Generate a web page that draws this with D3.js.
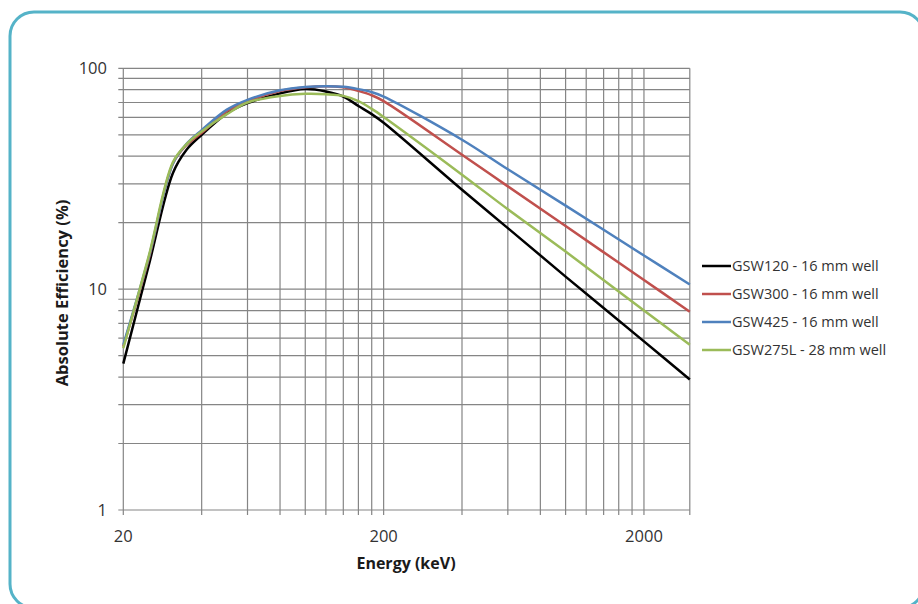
<!DOCTYPE html>
<meta charset="utf-8">
<style>
body { margin: 0; background: #fff; }
text { font-family: "Open Sans", sans-serif; fill: #333; }
.grid line { stroke: #858585; stroke-width: 1.2px; }
.line { fill: none; stroke-width: 2.5px; }
</style>
<body>
<script src="https://cdn.jsdelivr.net/npm/d3@7"></script>
<script>

// energies (keV) and efficiencies (%)
var energy  = [20, 25, 31, 35, 40, 50, 60, 80, 100, 120, 140, 160, 180, 200, 400, 600, 1000, 2000, 3000];
var gsw120  = [4.6, 12.7, 33.5, 42.8, 50, 62.5, 69.5, 77, 80.5, 78.5, 74.5, 67.5, 62, 56.7, 28.2, 18.9, 11.4, 5.8, 3.9];
var gsw300  = [5.5, 13.6, 37, 45, 51, 64, 71, 79, 82, 83, 82, 79, 75.5, 71, 40.6, 29.2, 19.3, 11, 7.9];
var gsw425  = [5.6, 13.8, 37, 45.5, 52.5, 65, 72, 79.5, 82.3, 83, 82.5, 80.5, 78, 74.5, 47.5, 34.9, 23.9, 14.2, 10.5];
var gsw275l = [5.4, 14, 37.5, 45.4, 51.8, 62, 70, 75, 76.6, 76.3, 75, 71, 65.5, 60.2, 33, 23, 14.8, 8, 5.6];

var seriesNames = ["GSW120 - 16 mm well", "GSW300 - 16 mm well", "GSW425 - 16 mm well", "GSW275L - 28 mm well"];
var seriesColors = ["#000000", "#C0504D", "#4F81BD", "#9BBB59"];

// grid / tick values
var xGrid = [20, 40, 60, 80, 100, 120, 140, 160, 180, 200, 400, 600, 800, 1000, 1200, 1400, 1600, 1800, 2000];
var xLabels = [20, 200, 2000];
var yGrid = [1, 2, 3, 4, 5, 6, 7, 8, 9, 10, 20, 30, 40, 50, 60, 70, 80, 90, 100];
var yLabels = [1, 10, 100];

var W = 918, H = 604;
var plotLeft = 123.3, plotRight = 689.8, plotTop = 68.3, plotBottom = 510;

var svg = d3.select("body").append("svg")
    .attr("width", W)
    .attr("height", H);

// rounded frame, partly cut by the picture edge
svg.append("rect")
    .attr("x", 10).attr("y", 12)
    .attr("width", 914).attr("height", 596)
    .attr("rx", 24).attr("ry", 24)
    .attr("fill", "none")
    .attr("stroke", "#55B3C8")
    .attr("stroke-width", 3);

var x = d3.scaleLog().domain([20, 3000]).range([plotLeft, plotRight]);
var y = d3.scaleLog().domain([1, 100]).range([plotBottom, plotTop]);

var grid = svg.append("g").attr("class", "grid");

// vertical grid lines, with a small tick below the axis
grid.selectAll(".vx")
    .data(xGrid)
  .enter().append("line")
    .attr("x1", function(d) { return x(d); })
    .attr("x2", function(d) { return x(d); })
    .attr("y1", plotTop)
    .attr("y2", plotBottom + 5);

// horizontal grid lines, with a small tick left of the axis
grid.selectAll(".hy")
    .data(yGrid)
  .enter().append("line")
    .attr("x1", plotLeft - 5)
    .attr("x2", plotRight)
    .attr("y1", function(d) { return y(d); })
    .attr("y2", function(d) { return y(d); });

// right edge of the plot
grid.append("line")
    .attr("x1", x(3000)).attr("x2", x(3000))
    .attr("y1", plotTop).attr("y2", plotBottom + 5);

// tick labels
svg.selectAll(".xl")
    .data(xLabels)
  .enter().append("text")
    .attr("x", function(d) { return x(d); })
    .attr("y", 536)
    .attr("dy", "0.35em")
    .attr("text-anchor", "middle")
    .style("font-size", "16.5px")
    .text(function(d) { return d; });

svg.selectAll(".yl")
    .data(yLabels)
  .enter().append("text")
    .attr("x", 107)
    .attr("y", function(d) { return y(d); })
    .attr("dy", "0.35em")
    .attr("text-anchor", "end")
    .style("font-size", "16.5px")
    .text(function(d) { return d; });

// axis titles
svg.append("text")
    .attr("x", 406)
    .attr("y", 563)
    .attr("dy", "0.35em")
    .attr("text-anchor", "middle")
    .style("font-size", "16px")
    .style("font-weight", "bold")
    .style("fill", "#1a1a1a")
    .text("Energy (keV)");

svg.append("text")
    .attr("transform", "translate(62,293) rotate(-90)")
    .attr("dy", "0.35em")
    .attr("text-anchor", "middle")
    .style("font-size", "16.5px")
    .style("font-weight", "bold")
    .style("fill", "#1a1a1a")
    .text("Absolute Efficiency (%)");

// the curves
var allSeries = [gsw120, gsw300, gsw425, gsw275l];
var line = d3.line()
    .x(function(d, i) { return x(energy[i]); })
    .y(function(d) { return y(d); })
    .curve(d3.curveCatmullRom.alpha(0.5));

allSeries.forEach(function(s, k) {
  svg.append("path")
      .datum(s)
      .attr("class", "line")
      .style("stroke", seriesColors[k])
      .attr("d", line);
});

// legend
var legend = svg.selectAll(".legend")
    .data(seriesNames)
  .enter().append("g")
    .attr("transform", function(d, i) { return "translate(0," + (266 + i * 28) + ")"; });

legend.append("line")
    .attr("x1", 702).attr("x2", 731)
    .attr("y1", 0).attr("y2", 0)
    .style("stroke", function(d, i) { return seriesColors[i]; })
    .style("stroke-width", 2.5);

legend.append("text")
    .attr("x", 732)
    .attr("y", 0)
    .attr("dy", "0.35em")
    .style("font-size", "14.5px")
    .text(function(d) { return d; });

</script>
</body>
